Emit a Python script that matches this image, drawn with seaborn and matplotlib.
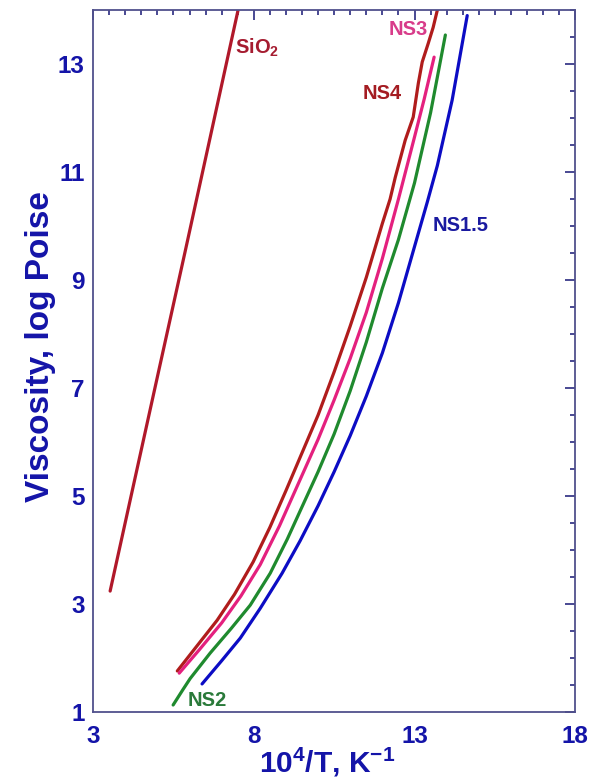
import numpy as np
import pandas as pd
import matplotlib
matplotlib.use("Agg")
import matplotlib.pyplot as plt
from matplotlib.ticker import FixedLocator, MultipleLocator
import seaborn as sns

# ===============================
# DATA
# ===============================
sio2_x = [3.53, 4.20, 5.09, 5.86, 6.70, 7.51]
sio2_y = [3.24, 5.05, 7.45, 9.52, 11.8, 14.0]

ns4_x = [5.62, 6.20, 6.86, 7.40, 7.98, 8.50, 9.00, 9.50, 10.00, 10.50, 11.00,
         11.50, 12.00, 12.24, 12.40, 12.71, 12.96, 13.12, 13.24, 13.43, 13.58, 13.71]
ns4_y = [1.76, 2.20, 2.70, 3.18, 3.78, 4.42, 5.10, 5.80, 6.50, 7.30, 8.15,
         9.05, 10.05, 10.50, 10.90, 11.59, 12.02, 12.65, 13.04, 13.39, 13.68, 14.0]

ns3_x = [5.68, 6.30, 7.00, 7.60, 8.20, 8.80, 9.40, 10.00, 10.50, 11.00, 11.50,
         12.00, 12.50, 13.00, 13.30, 13.61]
ns3_y = [1.72, 2.15, 2.65, 3.15, 3.73, 4.45, 5.25, 6.05, 6.78, 7.55, 8.40,
         9.40, 10.50, 11.65, 12.35, 13.13]

ns2_x = [5.49, 5.80, 6.02, 6.64, 7.30, 7.89, 8.51, 9.04, 9.50, 10.00, 10.50,
         11.00, 11.50, 12.00, 12.50, 13.00, 13.50, 13.96]
ns2_y = [1.13, 1.42, 1.62, 2.09, 2.55, 2.98, 3.57, 4.20, 4.80, 5.45, 6.15,
         6.95, 7.85, 8.85, 9.75, 10.80, 12.10, 13.54]

ns15_x = [6.39, 7.00, 7.58, 8.20, 8.88, 9.44, 10.00, 10.50, 11.00, 11.50, 12.00,
          12.50, 13.00, 13.40, 13.71, 14.17, 14.64]
ns15_y = [1.52, 1.95, 2.37, 2.92, 3.57, 4.17, 4.82, 5.45, 6.12, 6.85, 7.65,
          8.58, 9.62, 10.45, 11.12, 12.33, 13.9]

names = ["SiO2", "NS4", "NS3", "NS2", "NS1.5"]
colors = ["#b0182a", "#b01c1c", "#e4207e", "#1f8a2e", "#0c0cc4"]

df = pd.concat([
    pd.DataFrame({"x": xs, "y": ys, "glass": n})
    for n, xs, ys in zip(names,
                         [sio2_x, ns4_x, ns3_x, ns2_x, ns15_x],
                         [sio2_y, ns4_y, ns3_y, ns2_y, ns15_y])
])

# ===============================
# STYLE
# ===============================
sns.set_style("white")
plt.rcParams["font.family"] = ["Liberation Sans", "DejaVu Sans"]
plt.rcParams["font.weight"] = "bold"
plt.rcParams["mathtext.fontset"] = "custom"
plt.rcParams["mathtext.rm"] = "Liberation Sans:bold"
plt.rcParams["mathtext.it"] = "Liberation Sans:bold"
plt.rcParams["mathtext.bf"] = "Liberation Sans:bold"

axis_col = "#50508c"
tick_col = "#2a2a80"
label_col = "#1414a8"

# ===============================
# PLOT
# ===============================
fig = plt.figure(figsize=(5.93, 7.82), dpi=100)
ax = fig.add_axes([0.157, 0.0895, 0.813, 0.8975])

sns.lineplot(data=df, x="x", y="y", hue="glass", palette=colors,
             estimator=None, sort=False, units="glass", linewidth=2.3,
             legend=False, ax=ax)

ax.set_xlim(3, 18)
ax.set_ylim(1, 14)
ax.xaxis.set_major_locator(FixedLocator([3, 8, 13, 18]))
ax.xaxis.set_minor_locator(MultipleLocator(0.5))
ax.yaxis.set_major_locator(FixedLocator([1, 3, 5, 7, 9, 11, 13]))
ax.yaxis.set_minor_locator(MultipleLocator(0.5))

ax.tick_params(which="both", direction="in", top=True, right=True,
               color=tick_col, width=1.2)
ax.tick_params(which="major", length=7)
ax.tick_params(which="minor", length=3.6)
ax.tick_params(axis="x", which="major", pad=9, labelsize=17.5, labelcolor=label_col)
ax.tick_params(axis="y", which="major", pad=6, labelsize=17.5, labelcolor=label_col)
for lab in ax.get_xticklabels() + ax.get_yticklabels():
    lab.set_fontweight("bold")

for s in ax.spines.values():
    s.set_color(axis_col)
    s.set_linewidth(1.3)

ax.set_xlabel("10$^4$/T, K$^{-1}$", fontsize=21.5, fontweight="bold",
              color=label_col)
ax.set_ylabel("Viscosity, log Poise", fontsize=24, fontweight="bold",
              color=label_col)
ax.xaxis.set_label_coords(0.485, -0.048, transform=ax.transAxes)
ax.yaxis.set_label_coords(-0.11, 0.52, transform=ax.transAxes)
ax.xaxis.label.set_va("top")
ax.yaxis.label.set_va("center")

# curve labels
ax.text(7.42, 13.31, "SiO$_2$", color="#a51c30", fontsize=14.5,
        fontweight="bold", ha="left", va="center")
ax.text(12.18, 13.64, "NS3", color="#d83c8a", fontsize=14.5,
        fontweight="bold", ha="left", va="center")
ax.text(11.40, 12.46, "NS4", color="#a41c22", fontsize=14.5,
        fontweight="bold", ha="left", va="center")
ax.text(13.55, 10.01, "NS1.5", color="#1a1aa0", fontsize=14.5,
        fontweight="bold", ha="left", va="center")
ax.text(5.93, 1.22, "NS2", color="#2a7a3a", fontsize=14.5,
        fontweight="bold", ha="left", va="center")

fig.savefig("out.png", dpi=100)
